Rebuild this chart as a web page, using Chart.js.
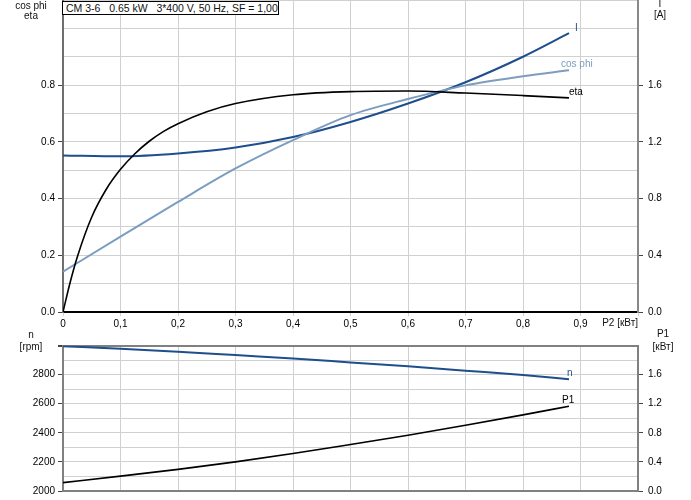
<!DOCTYPE html>
<html>
<head>
<meta charset="utf-8">
<script src="https://cdn.jsdelivr.net/npm/chart.js@4.4.0/dist/chart.umd.min.js"></script>
<style>
body{margin:0;background:#fff;width:691px;height:500px;position:relative;overflow:hidden;font-family:"Liberation Sans",Arial,sans-serif;font-size:10px;color:#111}
canvas{position:absolute;left:0}
.t{position:absolute;white-space:pre;line-height:12px;text-align:center;width:50px}
#title{position:absolute;left:62px;top:1px;height:12px;width:212px;padding-left:3px;line-height:12px;border:1px solid #000;background:#fff;white-space:pre;font-size:10.5px}
</style>
</head>
<body>
<canvas id="topChart" width="691" height="336" style="top:0"></canvas>
<canvas id="bottomChart" width="691" height="164" style="top:336px"></canvas>
<div id="title">CM 3-6   0.65 kW   3*400 V, 50 Hz, SF = 1,00</div>
<div class="t" style="left:6px;top:0px">cos phi</div>
<div class="t" style="left:6px;top:10px">eta</div>
<div class="t" style="left:635px;top:-2px">I</div>
<div class="t" style="left:635px;top:9px">[A]</div>
<div class="t" style="left:594px;top:317px;width:44px;text-align:right">P2 [кВт]</div>
<div class="t" style="left:6px;top:329px">n</div>
<div class="t" style="left:6px;top:341px">[rpm]</div>
<div class="t" style="left:638px;top:328px">P1</div>
<div class="t" style="left:638px;top:341px">[кВт]</div>
<script>
// P2 [kW] points
const p2 = [0, 0.1, 0.2, 0.3, 0.4, 0.5, 0.6, 0.7, 0.8, 0.88]
const cosPhi = [0.142, 0.266, 0.388, 0.506, 0.606, 0.694, 0.751, 0.799, 0.831, 0.852]
const current = [1.104, 1.098, 1.118, 1.16, 1.234, 1.34, 1.47, 1.62, 1.80, 1.966]
const etaP2 = [0, 0.0125, 0.025, 0.05, 0.075, 0.1, 0.125, 0.15, 0.175, 0.2, 0.25, 0.3, 0.4, 0.5, 0.6, 0.7, 0.8, 0.88]
const eta = [0, 0.105, 0.195, 0.335, 0.432, 0.503, 0.558, 0.602, 0.637, 0.664, 0.706, 0.735, 0.766, 0.777, 0.779, 0.772, 0.763, 0.755]
const speed = [2995, 2977, 2957, 2934, 2911, 2884, 2857, 2827, 2797, 2768]
const p1 = [0.115, 0.205, 0.297, 0.40, 0.516, 0.64, 0.767, 0.904, 1.046, 1.165]

const FONT = {family: '"Liberation Sans", Arial, sans-serif', size: 10}
const GRID = '#d0d0d0'
const DARK_BLUE = '#1f4e8c'
const LIGHT_BLUE = '#7c9dc0'

function pts(xs, ys){
    return xs.map((x, i) => ({x: x, y: ys[i]}))
}
function near(v, step){
    return Math.abs(v/step - Math.round(v/step)) < 1e-6
}

const endLabels = {
    id: 'endLabels',
    afterDatasetsDraw(chart){
        const ctx = chart.ctx
        ctx.save()
        ctx.font = '10px "Liberation Sans", Arial, sans-serif'
        ctx.textBaseline = 'alphabetic'
        chart.data.datasets.forEach((ds, i) => {
            if(!ds.endLabel) return
            const meta = chart.getDatasetMeta(i)
            const last = meta.data[meta.data.length - 1]
            ctx.fillStyle = ds.borderColor
            ctx.fillText(ds.endLabel.text, last.x + ds.endLabel.dx, last.y + ds.endLabel.dy)
        })
        ctx.restore()
    }
}

function lineSet(label, data, axis, color, width, endLabel){
    return {
        label: label,
        data: data,
        yAxisID: axis,
        borderColor: color,
        borderWidth: width,
        pointRadius: 0,
        fill: false,
        cubicInterpolationMode: 'monotone',
        endLabel: endLabel
    }
}

new Chart(document.getElementById('topChart'), {
    type: 'line',
    data: {
        datasets: [
            lineSet('eta', pts(etaP2, eta), 'y', '#000', 1.6, {text: 'eta', dx: 0, dy: -3}),
            lineSet('cos phi', pts(p2, cosPhi), 'y', LIGHT_BLUE, 2, {text: 'cos phi', dx: -8, dy: -3}),
            lineSet('I', pts(p2, current), 'y1', DARK_BLUE, 2, {text: 'I', dx: 6, dy: -2})
        ]
    },
    options: {
        responsive: false,
        animation: false,
        layout: {padding: 0},
        plugins: {legend: {display: false}, tooltip: {enabled: false}},
        scales: {
            x: {
                type: 'linear', min: 0, max: 1,
                afterFit: s => { s.height = 24 },
                ticks: {
                    stepSize: 0.1, autoSkip: false, maxRotation: 0, padding: 2,
                    font: FONT, color: '#000',
                    callback: v => v < 0.001 ? '0' : (v < 0.95 ? v.toFixed(1).replace('.', ',') : '')
                },
                grid: {color: GRID, tickLength: 4, tickColor: GRID},
                border: {color: '#000', width: 2}
            },
            y: {
                position: 'left', min: 0, max: 1.1,
                afterFit: s => { s.width = 63; s.paddingTop = 0; s.paddingBottom = 0 },
                ticks: {
                    stepSize: 0.1, autoSkip: false, padding: 3, font: FONT, color: '#000',
                    callback: v => (near(v, 0.2) && v < 0.85) ? v.toFixed(1) : ''
                },
                grid: {
                    color: GRID, tickLength: 5,
                    tickColor: c => (near(c.tick.value, 0.2) && c.tick.value < 0.85) ? '#444' : 'rgba(0,0,0,0)'
                },
                border: {color: '#6e6e6e', width: 2}
            },
            y1: {
                position: 'right', min: 0, max: 2.2,
                afterFit: s => { s.width = 53; s.paddingTop = 0; s.paddingBottom = 0 },
                ticks: {
                    stepSize: 0.2, autoSkip: false, padding: 5, font: FONT, color: '#000',
                    callback: v => (near(v, 0.4) && v < 1.65) ? v.toFixed(1) : ''
                },
                grid: {
                    drawOnChartArea: false, tickLength: 5,
                    tickColor: c => (near(c.tick.value, 0.4) && c.tick.value < 1.65) ? '#444' : 'rgba(0,0,0,0)'
                },
                border: {color: '#888', width: 2}
            }
        }
    },
    plugins: [endLabels]
})

new Chart(document.getElementById('bottomChart'), {
    type: 'line',
    data: {
        datasets: [
            lineSet('n', pts(p2, speed), 'y', DARK_BLUE, 2, {text: 'n', dx: -2, dy: -3}),
            lineSet('P1', pts(p2, p1), 'y1', '#000', 1.6, {text: 'P1', dx: -7, dy: -3})
        ]
    },
    options: {
        responsive: false,
        animation: false,
        layout: {padding: {top: 9.5}},
        plugins: {legend: {display: false}, tooltip: {enabled: false}},
        scales: {
            x: {
                type: 'linear', min: 0, max: 1,
                afterFit: s => { s.height = 9 },
                ticks: {stepSize: 0.1, display: false},
                grid: {color: GRID, drawTicks: false},
                border: {color: '#808080', width: 2}
            },
            y: {
                position: 'left', min: 2000, max: 3000,
                afterFit: s => { s.width = 63; s.paddingTop = 0; s.paddingBottom = 0 },
                ticks: {
                    stepSize: 100, autoSkip: false, padding: 3, font: FONT, color: '#000',
                    callback: v => (v % 200 === 0 && v < 2900) ? String(v) : ''
                },
                grid: {
                    color: c => c.tick.value === 3000 ? '#808080' : GRID,
                    lineWidth: c => c.tick.value === 3000 ? 2 : 1,
                    tickLength: 5,
                    tickColor: c => c.tick.value % 200 === 0 ? '#444' : 'rgba(0,0,0,0)'
                },
                border: {color: '#808080', width: 2}
            },
            y1: {
                position: 'right', min: 0, max: 2,
                afterFit: s => { s.width = 53; s.paddingTop = 0; s.paddingBottom = 0 },
                ticks: {
                    stepSize: 0.2, autoSkip: false, padding: 5, font: FONT, color: '#000',
                    callback: v => (near(v, 0.4) && v < 1.65) ? v.toFixed(1) : ''
                },
                grid: {
                    drawOnChartArea: false, tickLength: 5,
                    tickColor: c => (near(c.tick.value, 0.4) && c.tick.value < 1.65) ? '#444' : 'rgba(0,0,0,0)'
                },
                border: {color: '#808080', width: 2}
            }
        }
    },
    plugins: [endLabels]
})
</script>
</body>
</html>
